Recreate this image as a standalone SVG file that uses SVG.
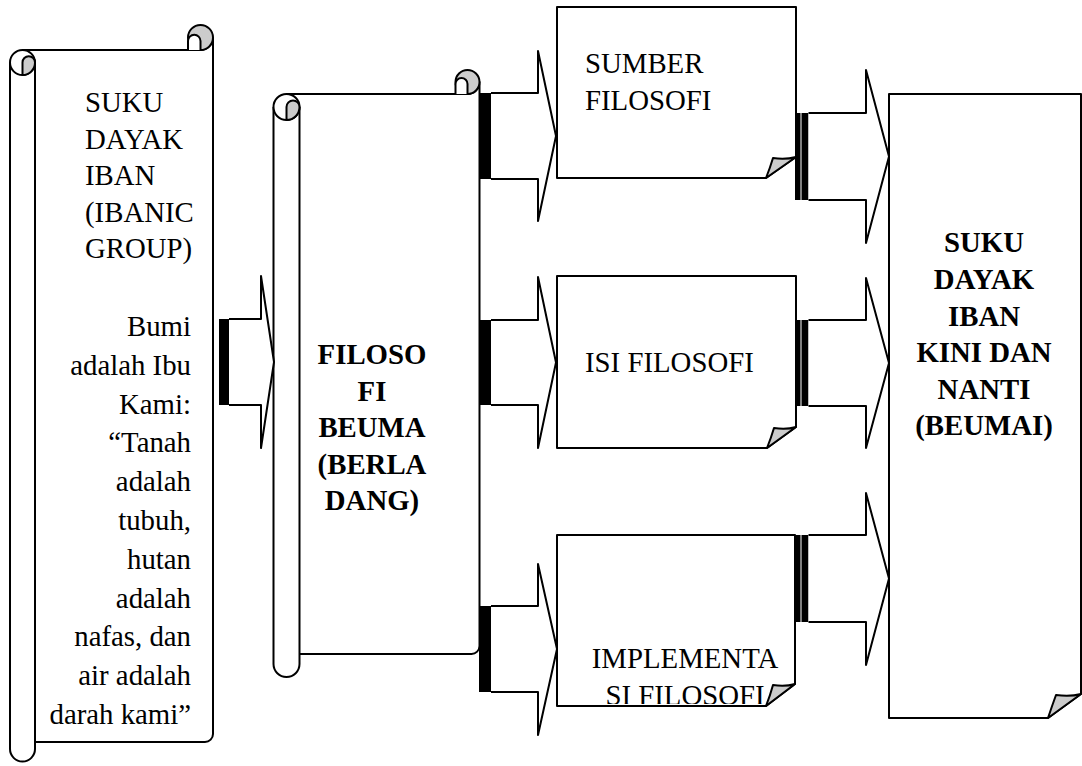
<svg xmlns="http://www.w3.org/2000/svg" width="1082" height="766" viewBox="0 0 1082 766">
<defs>
<style>
.ln{fill:#fff;stroke:#000;stroke-width:2;stroke-linejoin:round}
.gr{fill:#cccccc;stroke:#000;stroke-width:2;stroke-linejoin:round}
.bar{fill:#000}
.t{font-family:"Liberation Serif","Times New Roman",serif;font-size:28.8px;fill:#000}
.b{font-weight:bold}
.c{text-anchor:middle}
.e{text-anchor:end}
</style>
<clipPath id="clipImpl"><rect x="557" y="535" width="240" height="169"/></clipPath>
</defs>
<rect width="1082" height="766" fill="#fff"/>

<g id="scroll-suku-dayak-iban">
<path class="ln" d="M22.5,50 H200.5 A12.5,12.5 0 0 0 213,37.5 V734 A8,8 0 0 1 205,742 H35"/>
<path class="ln" d="M10,62.5 V749 A12.5,12.5 0 0 0 35,749 V62.5"/>
<circle class="ln" cx="22.5" cy="62.5" r="12.5"/>
<path class="gr" d="M22.5,75 V62.5 A6.25,6.25 0 0 1 35,62.5 A12.5,12.5 0 0 1 22.5,75 Z"/>
<circle class="gr" cx="200.5" cy="37.5" r="12.5"/>
<path class="ln" d="M188,50 V41 A6.25,6.25 0 0 1 200.5,41 V50"/>
<text class="t" x="85" y="112">SUKU</text>
<text class="t" x="85" y="148.6">DAYAK</text>
<text class="t" x="85" y="185.2">IBAN</text>
<text class="t" x="85" y="221.8">(IBANIC</text>
<text class="t" x="85" y="258.4">GROUP)</text>
<text class="t e" x="191" y="336">Bumi</text>
<text class="t e" x="191" y="374.8">adalah Ibu</text>
<text class="t e" x="191" y="413.6">Kami:</text>
<text class="t e" x="191" y="452.4">“Tanah</text>
<text class="t e" x="191" y="491.2">adalah</text>
<text class="t e" x="191" y="530">tubuh,</text>
<text class="t e" x="191" y="568.8">hutan</text>
<text class="t e" x="191" y="607.6">adalah</text>
<text class="t e" x="191" y="646.4">nafas, dan</text>
<text class="t e" x="191" y="685.2">air adalah</text>
<text class="t e" x="191" y="724">darah kami”</text>
</g>

<g id="scroll-filosofi-beuma">
<path class="ln" d="M286.5,94 H467.5 A12,12 0 0 0 479.5,82 V646 A8,8 0 0 1 471.5,654 H299.5"/>
<path class="ln" d="M273.5,107 V664 A13,13 0 0 0 299.5,664 V107"/>
<circle class="ln" cx="286.5" cy="107" r="13"/>
<path class="gr" d="M286.5,120 V107 A6.5,6.5 0 0 1 299.5,107 A13,13 0 0 1 286.5,120 Z"/>
<circle class="gr" cx="467.5" cy="82" r="12"/>
<path class="ln" d="M455.5,94 V84 A6,6 0 0 1 467.5,84 V94"/>
<text class="t b c" x="372" y="364">FILOSO</text>
<text class="t b c" x="372" y="401">FI</text>
<text class="t b c" x="372" y="437">BEUMA</text>
<text class="t b c" x="372" y="474">(BERLA</text>
<text class="t b c" x="372" y="510">DANG)</text>
</g>

<g id="box-sumber">
<path class="ln" d="M557,7 H796 V157 L766,178 H557 Z"/>
<path class="gr" d="M766,178 Q770,168 773,158 Q785,160 796,157 Z"/>
<text class="t" x="585" y="73">SUMBER</text>
<text class="t" x="585" y="110">FILOSOFI</text>
</g>

<g id="box-isi">
<path class="ln" d="M557,276 H796 V427 L767,448 H557 Z"/>
<path class="gr" d="M767,448 Q771,438 774,428 Q786,430 796,427 Z"/>
<text class="t" x="585" y="372">ISI FILOSOFI</text>
</g>

<g id="box-implementasi">
<path class="ln" d="M557,535 H795 V684 L766,706 H557 Z"/>
<g clip-path="url(#clipImpl)">
<text class="t c" x="685" y="668">IMPLEMENTA</text>
<text class="t c" x="685" y="705">SI FILOSOFI</text>
</g>
<path class="gr" d="M766,706 Q770,696 773,685 Q785,687 795,684 Z"/>
</g>

<g id="box-kini-nanti">
<path class="ln" d="M889,94 H1081 V694 L1048,718 H889 Z"/>
<path class="gr" d="M1048,718 Q1052,706 1056,695 Q1070,697 1081,694 Z"/>
<text class="t b c" x="984" y="252">SUKU</text>
<text class="t b c" x="984" y="289">DAYAK</text>
<text class="t b c" x="984" y="326">IBAN</text>
<text class="t b c" x="984" y="362">KINI DAN</text>
<text class="t b c" x="984" y="399">NANTI</text>
<text class="t b c" x="984" y="435">(BEUMAI)</text>
</g>

<g id="connectors">
<rect class="bar" x="219" y="319" width="10" height="86"/>
<path class="ln" d="M229,319 H261 V276 L274,362 L261,448 V405 H229"/>

<rect class="bar" x="479" y="93" width="12" height="86"/>
<path class="ln" d="M491,93 H538 V51 L556,136 L538,221 V179 H491"/>
<rect class="bar" x="479" y="320" width="12" height="85"/>
<path class="ln" d="M491,320 H538 V277 L556,362.5 L538,448 V405 H491"/>
<rect class="bar" x="479" y="606" width="12" height="86"/>
<path class="ln" d="M491,606 H538 V564 L557,649 L538,735 V692 H491"/>

<rect class="bar" x="795" y="113" width="5.5" height="87"/>
<rect class="bar" x="801.5" y="113" width="7" height="87"/>
<path class="ln" d="M808.5,113 H866 V70 L889,156.5 L866,243 V200 H808.5"/>
<rect class="bar" x="795" y="320" width="5.5" height="86"/>
<rect class="bar" x="801.5" y="320" width="7" height="86"/>
<path class="ln" d="M808.5,320 H866 V278 L889,363 L866,448 V406 H808.5"/>
<rect class="bar" x="795" y="535" width="5.5" height="87"/>
<rect class="bar" x="801.5" y="535" width="7" height="87"/>
<path class="ln" d="M808.5,535 H866 V493 L889,578.5 L866,665 V622 H808.5"/>
</g>
</svg>
